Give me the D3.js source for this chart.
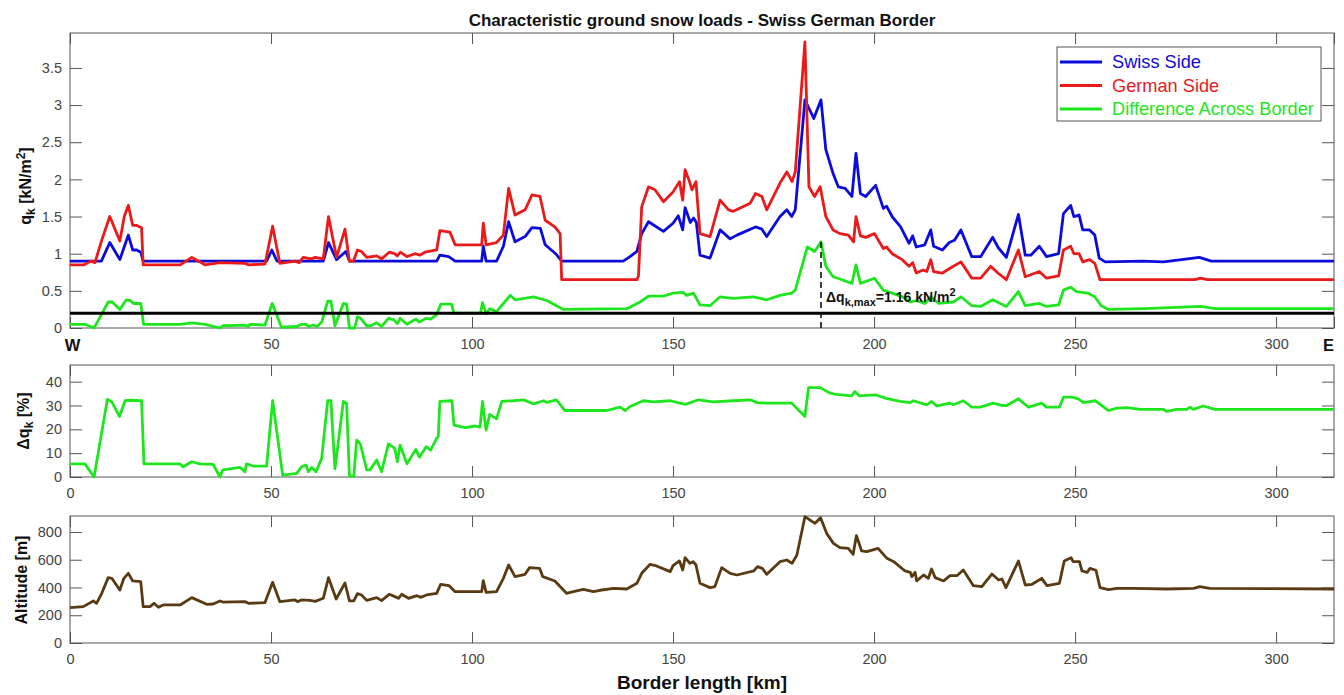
<!DOCTYPE html>
<html>
<head>
<meta charset="utf-8">
<script src="https://cdn.jsdelivr.net/npm/d3@7"></script>
<style>
    body { margin: 0; background: #fff; }
    svg { font-family: "Liberation Sans", Arial, sans-serif; }
    .axis path { display: none; }
    .axis line { stroke: #555; }
    .axis text { font-size: 14.5px; fill: #444; }
</style>
</head>
<body>
<div id="chart"></div>
<script>
// Data: [border km, value]
var swissSide = [[0,0.9],[7.8,0.9],[9.9,1.15],[12.4,0.92],[14.5,1.25],[15.6,1.05],[16.6,1.05],[17.6,1.02],[18.2,0.9],
    [48.9,0.9],[50.2,1.05],[51.5,0.9],[63,0.9],[64.3,1.15],[66.3,0.92],[68.6,1.03],[69.5,0.9],[91.2,0.9],[92.0,0.98],
    [94.2,0.96],[95.8,0.9],[102.4,0.9],[102.8,1.1],[103.5,0.9],[106.1,0.9],[107.8,1.1],[109.1,1.43],[110.7,1.16],
    [113.2,1.23],[114.9,1.35],[117,1.34],[118.2,1.12],[120.8,1.0],[122.3,0.9],[137.6,0.9],[139.3,0.96],[141,1.03],
    [142.2,1.27],[143.9,1.43],[147.6,1.3],[150,1.41],[151.3,1.51],[152.4,1.32],[153,1.62],[154.3,1.42],[155.1,1.48],
    [155.8,1.42],[156.7,0.98],[159.2,0.94],[161.7,1.32],[164.2,1.2],[165.9,1.25],[170.5,1.36],[172.1,1.33],[173.3,1.23],
    [176.6,1.5],[178.3,1.59],[179.5,1.5],[180.4,1.59],[182.8,3.07],[185,2.82],[186.8,3.07],[188,2.4],[189.8,2.08],
    [191.1,1.9],[192.8,1.88],[194.5,1.77],[195.5,2.35],[196.6,1.81],[197.9,1.77],[200.4,1.92],[202.3,1.61],[203.1,1.64],
    [204.5,1.5],[206.6,1.36],[208.7,1.14],[209.6,1.24],[210.5,1.09],[212.6,1.12],[214.1,1.32],[214.8,1.1],[217,1.05],
    [218.7,1.15],[220,1.18],[221.6,1.32],[224.3,0.96],[226.5,0.96],[229.5,1.22],[230.9,1.08],[232.9,0.95],[235.9,1.53],
    [237.6,0.98],[239,0.98],[241.1,1.1],[242.9,0.96],[245.9,1.0],[247.1,1.54],[248.9,1.65],[249.7,1.5],[251,1.52],
    [251.9,1.32],[253.6,1.32],[254.9,1.25],[256,0.94],[257.5,0.89],[266.7,0.9],[272,0.89],[280.9,0.95],[283.9,0.9],
    [314.4,0.9]];

var germanSide = [[0,0.85],[3.5,0.85],[5.2,0.9],[6.2,0.88],[8,1.2],[9.9,1.5],[12.4,1.17],[13.5,1.5],[14.5,1.65],
    [15.6,1.38],[16.6,1.38],[17.8,1.35],[18.2,0.85],[27.4,0.85],[30.3,0.95],[33.6,0.85],[37.3,0.88],[43.5,0.87],
    [44.5,0.85],[48.5,0.86],[50.4,1.37],[52.2,0.87],[56,0.9],[57,0.88],[58,0.95],[60,0.93],[61,0.95],[63,0.93],
    [64.3,1.5],[66.3,0.95],[68.4,1.33],[69.5,0.9],[70.5,0.9],[71.5,1.05],[72.5,1.03],[73.8,0.95],[76.3,0.97],
    [77.5,0.93],[79.4,1.02],[80.8,1.0],[81.4,0.97],[82.2,1.02],[83.8,0.96],[85.8,1.0],[87,0.98],[88.3,1.02],
    [91.2,1.05],[92,1.31],[94.5,1.29],[95.8,1.12],[102.4,1.12],[102.8,1.41],[103.5,1.12],[106.1,1.15],[107.8,1.25],
    [109.1,1.88],[110.7,1.52],[113.2,1.59],[114.9,1.79],[116.9,1.77],[118.2,1.45],[120.6,1.36],[121.9,1.27],
    [122.3,0.65],[141,0.65],[141.4,0.7],[142.2,1.63],[143.9,1.9],[145.5,1.86],[147.6,1.7],[150,1.83],[151.6,1.97],
    [152.4,1.72],[153,2.13],[154.1,1.97],[154.7,1.86],[155.7,1.97],[156.7,1.27],[159.2,1.23],[161.7,1.72],
    [163.8,1.59],[165,1.57],[169.2,1.68],[170.5,1.81],[172.1,1.77],[173.3,1.59],[176.6,1.95],[178.3,2.1],
    [179.6,1.97],[180.4,2.1],[182.8,3.85],[183.8,1.9],[185.2,1.77],[186.6,1.9],[188,1.5],[189.8,1.32],[191.5,1.27],
    [193.6,1.25],[194.9,1.16],[195.5,1.5],[196.6,1.24],[197.9,1.22],[200.1,1.27],[202.3,1.07],[203.1,1.09],[204.5,1.0],
    [207,0.92],[208.7,0.83],[209.6,0.88],[210.5,0.74],[212.2,0.78],[213.1,0.76],[214.1,0.92],[214.8,0.76],[217,0.74],
    [219.1,0.81],[221.6,0.89],[224.3,0.67],[226.5,0.67],[229,0.83],[230.8,0.74],[232.9,0.65],[235.9,1.05],
    [237.6,0.69],[241.1,0.76],[242.9,0.67],[245.9,0.7],[247.1,1.05],[248.9,1.1],[249.7,1.0],[251,1.0],[251.9,0.89],
    [253.6,0.92],[254.9,0.87],[256.2,0.65],[279.8,0.65],[281.2,0.67],[282.9,0.65],[314.4,0.65]];

var difference = [[0,0.05],[3.7,0.05],[6,0.0],[7.5,0.15],[9.5,0.35],[10.5,0.35],[12.4,0.25],[14,0.38],[15,0.37],
    [15.8,0.33],[17.6,0.33],[18.3,0.05],[27.4,0.05],[30.3,0.07],[33.6,0.05],[37.3,0.0],[38,0.03],[43.5,0.04],
    [44.3,0.02],[44.8,0.05],[48.5,0.04],[50.3,0.33],[52.6,0.01],[56.4,0.02],[57.6,0.05],[58.7,0.05],[59.3,0.02],
    [60.5,0.04],[61.5,0.02],[62.6,0.08],[64.1,0.36],[64.9,0.36],[65.9,0.03],[68,0.33],[68.8,0.32],[69.5,0.0],
    [70.8,0.0],[71.5,0.15],[72.3,0.13],[73.8,0.03],[74.8,0.03],[76.3,0.07],[77.5,0.02],[79.2,0.13],[80.6,0.11],
    [81.4,0.06],[82.1,0.13],[83.8,0.05],[86,0.12],[86.9,0.08],[88.6,0.13],[89.7,0.12],[91.2,0.18],[92.2,0.32],
    [94.9,0.32],[95.5,0.2],[102.1,0.2],[102.6,0.34],[103.5,0.19],[104.4,0.26],[106.1,0.22],[107.8,0.33],[109.5,0.44],
    [110.7,0.38],[115.3,0.42],[118.6,0.37],[122.7,0.25],[138.5,0.26],[141.8,0.35],[143.9,0.43],[147.6,0.43],
    [150,0.47],[152.5,0.48],[153.4,0.44],[155.1,0.47],[156.7,0.31],[159.2,0.3],[161.7,0.42],[165,0.4],[170,0.42],
    [173.3,0.38],[176.6,0.44],[179.5,0.47],[180.4,0.51],[183.4,1.09],[185.2,1.03],[186.8,1.16],[188,0.83],
    [189.8,0.69],[191.5,0.66],[194.5,0.6],[195.5,0.85],[196.6,0.6],[200.1,0.67],[202.3,0.51],[204.5,0.47],[207,0.42],
    [209.1,0.35],[210.5,0.37],[212.6,0.33],[214.1,0.42],[216.1,0.33],[219.7,0.35],[221.6,0.42],[224.3,0.3],
    [226.5,0.29],[229.5,0.38],[232.9,0.29],[235.9,0.49],[237.6,0.3],[241.1,0.33],[242.9,0.29],[245.9,0.31],
    [247.1,0.51],[248.9,0.55],[250.3,0.49],[253.1,0.47],[254.9,0.42],[256.5,0.3],[258.3,0.25],[267.3,0.26],
    [281.2,0.29],[284.9,0.26],[314.4,0.26]];

var diffPercent = [[0,5.5],[3.7,5.5],[6,0],[7,10],[9.3,32.6],[10.4,31.5],[12.3,25.4],[13.7,32],[15,32.2],[17.8,32],
    [18.4,5.5],[27.4,5.5],[28.1,4.3],[30.3,6.4],[32.3,5.5],[35.6,5.3],[37.3,0],[38,3],[42.3,4],[43.5,2.2],[43.9,5.5],
    [45.6,4.6],[48.9,4.6],[50.4,32],[52.9,0.8],[56.4,1.5],[57.6,4.3],[58.7,5],[59.3,2.2],[60.1,4],[61.2,2.2],
    [62.6,7.8],[64.1,32],[64.9,32],[65.9,3.4],[68,31.7],[68.8,31],[69.5,0.4],[70.6,0.4],[71.3,15.5],[72.2,14],
    [73.8,3],[74.6,3],[76.3,7.1],[77.5,2.2],[79.2,13.9],[80.8,12],[81.4,6.4],[82.1,13.4],[83.8,5.5],[86,11.6],
    [86.9,8.3],[88.6,12.7],[89.7,11.3],[91.2,16.2],[91.6,17],[92,31.7],[95,32],[95.5,21.8],[98.3,20.7],[100.8,21.4],
    [102,20.9],[102.6,31.7],[103.5,19.7],[104.4,26.3],[106.1,24.4],[107.4,31.7],[110.2,32],[112.8,32.4],[115.3,30.7],
    [117.8,32],[118.6,31.3],[121,32.4],[123.1,27.9],[133.5,27.9],[136.8,29.3],[138.1,27.9],[139.3,29.6],[142.6,32],
    [145.1,31.5],[149.3,32],[151.7,31],[153.1,30.5],[156.3,32.4],[160,31.5],[165,32],[169.2,32.4],[170.9,31.2],
    [173.3,31],[179.5,31],[182.8,25.4],[183.7,37.5],[186.6,37.5],[188.8,35.4],[190.1,34.8],[194.4,34],[195.2,35.9],
    [196.4,34],[200.3,34.5],[203,33],[206.5,31.7],[209,31.2],[209.8,32],[213.1,30.3],[214.3,31.7],[215.6,29.8],
    [218.9,31],[219.7,30.3],[222.2,32],[224.3,29.3],[226.4,29.3],[229.7,31],[231.8,30],[233,30],[235.9,32.8],
    [238.4,29.3],[241.7,31],[242.9,29.3],[246.1,29.3],[247.1,33.5],[249.2,33.5],[250.8,32.8],[252.1,31.2],[255,32],
    [258.3,27.9],[260.4,28.9],[262.9,29.1],[266.2,28.4],[271.9,28.4],[272.8,27.5],[275.3,28.4],[277.8,28.4],
    [278.6,29.3],[279.4,28.4],[281.9,29.8],[284.8,28.4],[314.4,28.4]];

var altitude = [[0,255],[3.3,262],[5.8,303],[6.6,286],[7.9,358],[9.5,471],[10.4,466],[12.4,382],[13.4,466],[14.5,502],
    [15.6,447],[17.6,442],[18.2,262],[19.9,262],[20.9,286],[22,257],[23.2,274],[27.4,274],[30.3,327],[34,279],
    [35.6,281],[37.3,303],[38,295],[43.5,298],[44.4,286],[48.5,291],[50.4,437],[52.2,298],[56,310],[56.6,298],
    [57.6,310],[59.7,307],[61,300],[63,322],[64.3,471],[66.2,317],[68.4,432],[69.5,303],[70.6,303],[71.5,356],
    [72.5,346],[73.8,307],[76.3,327],[77.5,305],[79.4,351],[80.8,334],[81.7,322],[82.5,351],[84.2,322],[86.3,341],
    [87.2,329],[88.7,346],[91.2,358],[92.2,423],[94.3,413],[95.8,370],[102.4,370],[102.8,449],[103.5,365],[106.1,370],
    [107.8,466],[109.1,562],[110.7,478],[113.2,495],[114.3,543],[116.8,538],[117.6,478],[120.6,447],[123.5,358],
    [125.2,370],[127.7,387],[130.2,370],[131.8,380],[135.2,394],[138.5,389],[141,430],[142.2,502],[144.3,567],
    [145.9,555],[149.3,514],[150,557],[151.6,591],[152.4,526],[153,615],[154.2,574],[155,586],[155.7,562],[156.7,430],
    [159.2,399],[160.4,406],[162.1,543],[164.2,502],[165.9,490],[170.1,519],[171,550],[172.2,538],[173.3,495],
    [176.6,586],[178.3,598],[179.6,574],[180.8,634],[182.8,910],[185.3,862],[186.7,903],[188.2,790],[189.9,718],
    [191.5,687],[193.6,682],[194.8,639],[195.6,774],[196.9,663],[198.2,658],[201,682],[203.2,610],[204.9,586],
    [207.7,519],[209,509],[209.4,478],[210.2,509],[210.6,447],[212.3,490],[213.5,466],[214.3,533],[215.2,471],
    [217.3,447],[218.9,485],[220.6,485],[222.2,526],[224.7,413],[226.8,406],[229.3,497],[231,454],[231.8,461],
    [232.8,399],[235.9,591],[237.6,418],[239.3,423],[241.7,466],[243,413],[246.1,430],[247.3,591],[249,615],
    [249.5,586],[251.1,586],[251.7,519],[253,509],[253.7,538],[255.2,524],[256.2,399],[258.3,384],[260.4,394],
    [264.5,394],[272.8,389],[279.5,394],[281,406],[283.5,394],[314.4,389]];

// Axis limits, ticks and annotation values
var xMax = 314.4;
var xTicks = [0, 50, 100, 150, 200, 250, 300];
var qkTicks = [0, 0.5, 1, 1.5, 2, 2.5, 3, 3.5];
var pctTicks = [0, 10, 20, 30, 40];
var altTicks = [0, 200, 400, 600, 800];
var limitLine = 0.2;
var dqMaxKm = 186.8, dqMax = 1.16;
var legendNames = ["Swiss Side", "German Side", "Difference Across Border"];

var colors = { swiss: "#0b0bdc", german: "#ea1a1a", diff: "#1ee61e", alt: "#5a3a12" };

var svg = d3.select("#chart")
    .append("svg")
    .attr("width", 1344)
    .attr("height", 695);

var x = d3.scaleLinear().domain([0, xMax]).range([70, 1334]);

// Draws a boxed panel with inward ticks on all four sides, returns its y scale
function drawPanel(top, bottom, yMax, yTicks, xAxisTicks, xFormat) {
    var y = d3.scaleLinear().domain([0, yMax]).range([bottom, top]);

    svg.append("g")
        .attr("class", "axis xbottom")
        .attr("transform", "translate(0," + bottom + ")")
        .call(d3.axisBottom(x).tickValues(xAxisTicks).tickSize(-11).tickSizeOuter(0).tickPadding(11).tickFormat(xFormat));

    svg.append("g")
        .attr("class", "axis")
        .attr("transform", "translate(0," + top + ")")
        .call(d3.axisTop(x).tickValues(xAxisTicks).tickSize(-11).tickSizeOuter(0).tickFormat(""));

    svg.append("g")
        .attr("class", "axis")
        .attr("transform", "translate(70,0)")
        .call(d3.axisLeft(y).tickValues(yTicks).tickSize(-12).tickSizeOuter(0).tickPadding(8).tickFormat(d3.format("~g")));

    svg.append("g")
        .attr("class", "axis")
        .attr("transform", "translate(1334,0)")
        .call(d3.axisRight(y).tickValues(yTicks).tickSize(-12).tickSizeOuter(0).tickFormat(""));

    svg.append("rect")
        .attr("x", 70)
        .attr("y", top)
        .attr("width", 1264)
        .attr("height", bottom - top)
        .attr("fill", "none")
        .attr("stroke", "#555");

    return y;
}

function drawLine(data, y, color, width) {
    svg.append("path")
        .datum(data)
        .attr("fill", "none")
        .attr("stroke", color)
        .attr("stroke-width", width)
        .attr("stroke-linejoin", "round")
        .attr("d", d3.line().x(function(d) { return x(d[0]); }).y(function(d) { return y(d[1]); }));
}

// Title
svg.append("text")
    .attr("x", 702)
    .attr("y", 26)
    .attr("text-anchor", "middle")
    .attr("font-size", 17)
    .attr("font-weight", "bold")
    .attr("fill", "#111")
    .text("Characteristic ground snow loads - Swiss German Border");

// ---- Top panel: snow loads
var topTicks = xTicks.concat([xMax]);
var yTop = drawPanel(33, 328, 3.97, qkTicks, topTicks, function(d) {
    if (d === 0) return "W";
    if (d === xMax) return "E";
    return d;
});
// W / E ends of the border in bold
svg.select(".xbottom").selectAll("text")
    .filter(function() { return this.textContent === "W" || this.textContent === "E"; })
    .attr("font-weight", "bold")
    .attr("dx", function() { return this.textContent === "W" ? 2 : -6; })
    .style("font-size", "16.5px")
    .style("fill", "#111");

drawLine(swissSide, yTop, colors.swiss, 2.8);
drawLine(germanSide, yTop, colors.german, 2.8);
drawLine(difference, yTop, colors.diff, 2.8);

svg.append("line")
    .attr("x1", x(0)).attr("x2", x(xMax))
    .attr("y1", yTop(limitLine)).attr("y2", yTop(limitLine))
    .attr("stroke", "#000")
    .attr("stroke-width", 3);

svg.append("line")
    .attr("x1", x(dqMaxKm)).attr("x2", x(dqMaxKm))
    .attr("y1", yTop(0)).attr("y2", yTop(dqMax))
    .attr("stroke", "#000")
    .attr("stroke-width", 1.5)
    .attr("stroke-dasharray", "6,4");

var note = svg.append("text")
    .attr("x", x(dqMaxKm) + 5)
    .attr("y", 302)
    .attr("font-size", 14)
    .attr("font-weight", "bold")
    .attr("fill", "#111");
note.append("tspan").text("\u0394q");
note.append("tspan").attr("dy", 4).attr("font-size", 11).text("k,max");
note.append("tspan").attr("dy", -4).text("=1.16 kN/m");
note.append("tspan").attr("dy", -6).attr("font-size", 11).text("2");

// Legend
var legend = svg.append("g").attr("transform", "translate(1057,47)");
legend.append("rect")
    .attr("width", 264)
    .attr("height", 74)
    .attr("fill", "#fff")
    .attr("stroke", "#555");
[colors.swiss, colors.german, colors.diff].forEach(function(c, i) {
    var yy = 15 + i * 23.5;
    legend.append("line")
        .attr("x1", 3).attr("x2", 45)
        .attr("y1", yy).attr("y2", yy)
        .attr("stroke", c)
        .attr("stroke-width", 2.8);
    legend.append("text")
        .attr("x", 55)
        .attr("y", yy)
        .attr("dy", "0.35em")
        .attr("font-size", 18.2)
        .attr("fill", c)
        .text(legendNames[i]);
});

// y label top
var ql = svg.append("text")
    .attr("transform", "translate(31,186) rotate(-90)")
    .attr("text-anchor", "middle")
    .attr("font-size", 16)
    .attr("font-weight", "bold")
    .attr("fill", "#111");
ql.append("tspan").text("q");
ql.append("tspan").attr("dy", 4).attr("font-size", 12).text("k");
ql.append("tspan").attr("dy", -4).text(" [kN/m");
ql.append("tspan").attr("dy", -6).attr("font-size", 12).text("2");
ql.append("tspan").attr("dy", 6).text("]");

// ---- Middle panel: difference in percent
var yMid = drawPanel(365, 477, 47, pctTicks, xTicks, d3.format("~g"));
drawLine(diffPercent, yMid, colors.diff, 2.8);

var pl = svg.append("text")
    .attr("transform", "translate(29,421) rotate(-90)")
    .attr("text-anchor", "middle")
    .attr("font-size", 16)
    .attr("font-weight", "bold")
    .attr("fill", "#111");
pl.append("tspan").text("\u0394q");
pl.append("tspan").attr("dy", 4).attr("font-size", 12).text("k");
pl.append("tspan").attr("dy", -4).text(" [%]");

// ---- Bottom panel: altitude
var yAlt = drawPanel(516, 643, 915, altTicks, xTicks, d3.format("~g"));
drawLine(altitude, yAlt, colors.alt, 2.8);

svg.append("text")
    .attr("transform", "translate(27,580) rotate(-90)")
    .attr("text-anchor", "middle")
    .attr("font-size", 16)
    .attr("font-weight", "bold")
    .attr("fill", "#111")
    .text("Altitude [m]");

svg.append("text")
    .attr("x", 702)
    .attr("y", 689)
    .attr("text-anchor", "middle")
    .attr("font-size", 19)
    .attr("font-weight", "bold")
    .attr("fill", "#111")
    .text("Border length [km]");
</script>
</body>
</html>
